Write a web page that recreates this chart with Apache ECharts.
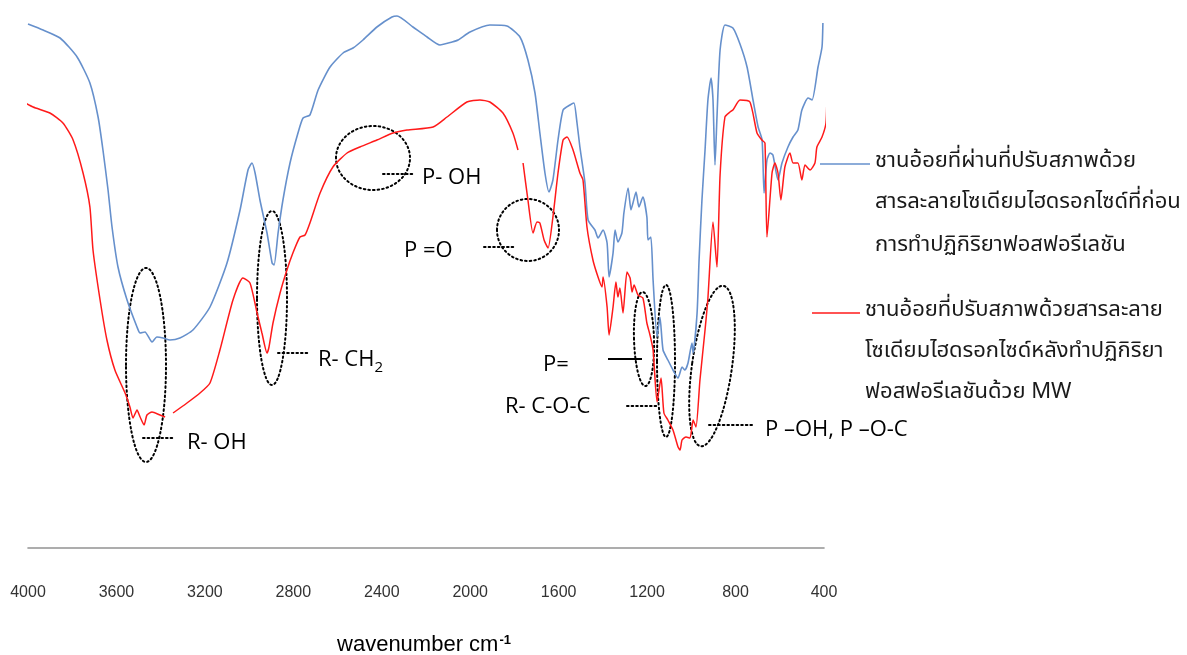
<!DOCTYPE html>
<html>
<head>
<meta charset="utf-8">
<script src="https://cdn.jsdelivr.net/npm/echarts@6/dist/echarts.min.js"></script>
<style>
html,body{margin:0;padding:0;background:#fff;}
#chart{width:1187px;height:655px;}
</style>
</head>
<body>
<div id="chart"></div>
<script>
// ---- data (wavenumber cm-1, transmittance a.u.) ----
const xTicks = [4000, 3600, 3200, 2800, 2400, 2000, 1600, 1200, 800, 400];

const blueWavenumber = [4000,3932,3855,3778,3720,3683,3661,3638,3620,3593,3552,3507,3493,3471,3439,3417,3389,3358,3313,3254,3177,3100,3041,3005,2987,2973,2951,2919,2896,2887,2869,2847,2815,2779,2756,2725,2688,2634,2575,2530,2485,2422,2354,2331,2259,2195,2137,2082,2055,2001,1911,1834,1775,1739,1707,1685,1662,1644,1626,1603,1580,1549,1531,1517,1504,1481,1467,1436,1422,1399,1381,1372,1354,1345,1332,1314,1305,1286,1273,1264,1250,1237,1219,1201,1196,1183,1173,1155,1142,1128,1106,1083,1060,1042,1029,1015,997,992,974,965,952,938,925,911,902,893,884,870,848,812,780,748,721,698,680,671,658,644,631,608,590,563,540,518,500,472,454,427,409,405];
const blueTransmittance = [104.8,103.6,102,98.2,93,86.2,79.6,71.6,64.2,56.2,49.6,44.2,43,43.2,41.2,42.2,42,41.6,42,43.6,48.2,57,67.6,75.6,77,75,69.6,63,57,56.6,63,69.6,77,83,86,86.6,91.6,96.2,99,100,101.6,104.2,106.2,106.4,104.2,102.2,100.6,101.2,101.6,103.2,104.6,104.4,102.2,97.6,91,83,75,71.2,73.6,81.6,87.6,88.6,89,85,80.2,73,65.6,63.6,62,63.6,61,54.2,59,63.6,61.2,63,67,72,67.6,69,71.2,68.2,70.2,66.2,61.6,62.2,53.6,42.2,46.2,39.6,37.6,35.6,34,36.2,35.6,37,41,39,47,57.6,69.6,79.6,89.6,94,89.6,76.6,86.2,99.6,104.6,104,100.8,96.2,89.6,84.2,81.6,71,77.6,79,78.6,73.6,77,80.2,82.2,83.6,87.6,90,89.6,96.2,100.2,105];

const redWavenumber = [4036,3977,3901,3842,3796,3751,3720,3706,3674,3643,3607,3561,3539,3525,3507,3493,3475,3462,3439,3403,3380,3362,3344,3281,3222,3177,3132,3073,3028,2996,2964,2942,2919,2910,2892,2860,2829,2802,2770,2747,2725,2679,2621,2557,2499,2422,2349,2286,2168,2105,2015,1956,1911,1852,1807,1784,1773,1761,1739,1716,1698,1685,1666,1648,1626,1603,1580,1562,1535,1504,1490,1472,1445,1422,1404,1399,1381,1372,1354,1341,1332,1323,1309,1291,1277,1268,1259,1241,1219,1201,1187,1173,1155,1137,1124,1106,1083,1060,1051,1042,1024,1006,992,979,961,938,925,902,884,870,848,825,812,780,735,703,681,667,658,635,622,608,595,577,554,540,518,500,486,463,441,432,409,391,387];
const redTransmittance = [89.6,88.2,87,85,81.6,75,68.2,59.6,49.6,41.6,35.6,31,28.2,26,27.6,26.2,24.6,26.6,27.2,26.6,26.2,null,27,29,31,33,39.6,49.6,54,53,47,43,39,40.2,45,51,55.6,59,62.2,62.6,65,71,76.2,79,80.2,81.6,83,83.6,84.2,86.2,89.2,89.6,89.2,87,83,79.6,null,77,69.6,63,65.2,65,61.6,60,66.2,75,81.6,82.2,79.6,75,73.6,64.2,57.6,54.2,52.2,54.2,48.2,42.6,48.2,53.2,50.2,52,47,55.2,54,51.2,52.6,50.6,50,45,42.6,39.6,29.2,34,27,25.6,23.6,20.2,19.6,21.6,22.2,22,25.6,24.2,33.6,43.6,50,65.2,56.2,74.6,86.2,87.2,87.6,89.6,89.2,83,81.6,81,62.2,75,77,75,69.6,76.2,79,77,77,73.6,76.6,75.6,77,80.2,82.2,85,90.2];

const blueLegendLines = ["ชานอ้อยที่ผ่านที่ปรับสภาพด้วย", "สารละลายโซเดียมไฮดรอกไซด์ที่ก่อน", "การทำปฏิกิริยาฟอสฟอรีเลชัน"];
const redLegendLines = ["ชานอ้อยที่ปรับสภาพด้วยสารละลาย", "โซเดียมไฮดรอกไซด์หลังทำปฏิกิริยา", "ฟอสฟอรีเลชันด้วย MW"];

const blueData = blueWavenumber.map((w, i) => [w, blueTransmittance[i]]);
const redData = redWavenumber.map((w, i) => [w, redTransmittance[i]]);

const blueColor = '#6690cc';
const redColor = '#ff1a1a';
const annFont = '"Open Sans", "Liberation Sans", sans-serif';
const thaiFont = '"Noto Sans Thai", "Noto Sans Thai Looped", "Loma", "Garuda", "Norasi", "Noto Sans", sans-serif';

function dottedEllipse(x, y, rx, ry, rot) {
  return { type: 'ellipse', x: x, y: y, rotation: rot || 0, silent: true,
    shape: { cx: 0, cy: 0, rx: rx, ry: ry },
    style: { fill: null, stroke: '#000', lineWidth: 2, lineDash: [1.6, 3], lineCap: 'round' } };
}
function dottedLine(x1, y1, x2, y2, solid) {
  return { type: 'line', silent: true, shape: { x1: x1, y1: y1, x2: x2, y2: y2 },
    style: { stroke: '#000', lineWidth: 2, lineDash: solid ? null : [1.6, 3], lineCap: solid ? 'butt' : 'round' } };
}
function label(x, y, text) {
  return { type: 'text', x: x, y: y, silent: true,
    style: { text: text, fill: '#000', font: '22px ' + annFont, textVerticalAlign: 'middle', textAlign: 'left' } };
}

const graphics = [
  dottedEllipse(146, 365, 20, 97),
  dottedEllipse(272, 298, 15, 87),
  dottedEllipse(373, 158, 37, 32),
  dottedEllipse(528, 230, 31, 31),
  dottedEllipse(644, 339, 10, 47, 0.03),
  dottedEllipse(666, 361, 9, 76),
  dottedEllipse(712, 366, 20, 81, -0.14),
  dottedLine(143, 438, 174, 438),
  dottedLine(278, 353, 309, 353),
  dottedLine(383, 174, 415, 174),
  dottedLine(484, 247, 516, 247),
  dottedLine(608, 359, 642, 359, true),
  dottedLine(627, 406, 658, 406),
  dottedLine(709, 425, 754, 425),
  label(187, 443, 'R- OH'),
  { type: 'text', x: 318, y: 360, silent: true,
    style: { text: '{a|R- CH}{b|2}', textVerticalAlign: 'middle',
      rich: { a: { font: '22px ' + annFont, fill: '#000', verticalAlign: 'bottom' },
              b: { font: '15px ' + annFont, fill: '#000', verticalAlign: 'bottom', padding: [0,0,-4,0] } } } },
  label(422, 178, 'P- OH'),
  label(404, 251, 'P =O'),
  label(543, 365, 'P='),
  label(505, 407, 'R- C-O-C'),
  label(765, 430, 'P \u2013OH, P \u2013O-C'),
  // legend keys
  { type: 'line', silent: true, shape: { x1: 820, y1: 164, x2: 870, y2: 164 }, style: { stroke: blueColor, lineWidth: 1.3 } },
  { type: 'line', silent: true, shape: { x1: 812, y1: 313, x2: 860, y2: 313 }, style: { stroke: redColor, lineWidth: 1.3 } },
  // axis title
  { type: 'text', x: 424, y: 645, silent: true,
    style: { text: '{a|wavenumber cm}{b|-1}', textAlign: 'center', textVerticalAlign: 'middle',
      rich: { a: { font: '22px "Liberation Sans", Arial, sans-serif', fill: '#000', verticalAlign: 'bottom' },
              b: { font: 'bold 13px "Liberation Sans", Arial, sans-serif', fill: '#000', verticalAlign: 'top', padding: [0,0,8,1] } } } }
];
blueLegendLines.forEach((t, i) => {
  graphics.push({ type: 'text', x: 875, y: [163, 204, 247][i], silent: true,
    style: { text: t, fill: '#1a1a1a', font: '22px ' + thaiFont, textVerticalAlign: 'middle' } });
});
redLegendLines.forEach((t, i) => {
  graphics.push({ type: 'text', x: 865, y: [312, 353, 394][i], silent: true,
    style: { text: t, fill: '#1a1a1a', font: '22px ' + thaiFont, textVerticalAlign: 'middle' } });
});

const chart = echarts.init(document.getElementById('chart'), null, { renderer: 'canvas' });
chart.setOption({
  animation: false,
  backgroundColor: '#fff',
  grid: { left: 28, right: 363, top: 8, bottom: 107, containLabel: false },
  xAxis: {
    type: 'value', inverse: true, min: 400, max: 4000, interval: 400,
    axisLine: { show: true, lineStyle: { color: '#929292', width: 1.6 } },
    axisTick: { show: false },
    splitLine: { show: false },
    axisLabel: { show: true, margin: 37, color: '#333', fontSize: 16,
      fontFamily: '"Liberation Sans", Arial, sans-serif',
      customValues: xTicks, formatter: v => String(v) }
  },
  yAxis: { type: 'value', min: 0, max: 108, show: false, splitLine: { show: false } },
  series: [
    { type: 'line', name: 'before', data: blueData, showSymbol: false, clip: false, smooth: 0.2,
      connectNulls: false, lineStyle: { color: blueColor, width: 1.6 }, itemStyle: { color: blueColor } },
    { type: 'line', name: 'after', data: redData, showSymbol: false, clip: false, smooth: 0.2,
      connectNulls: false, lineStyle: { color: redColor, width: 1.5 }, itemStyle: { color: redColor } }
  ],
  graphic: graphics
});
</script>
</body>
</html>
